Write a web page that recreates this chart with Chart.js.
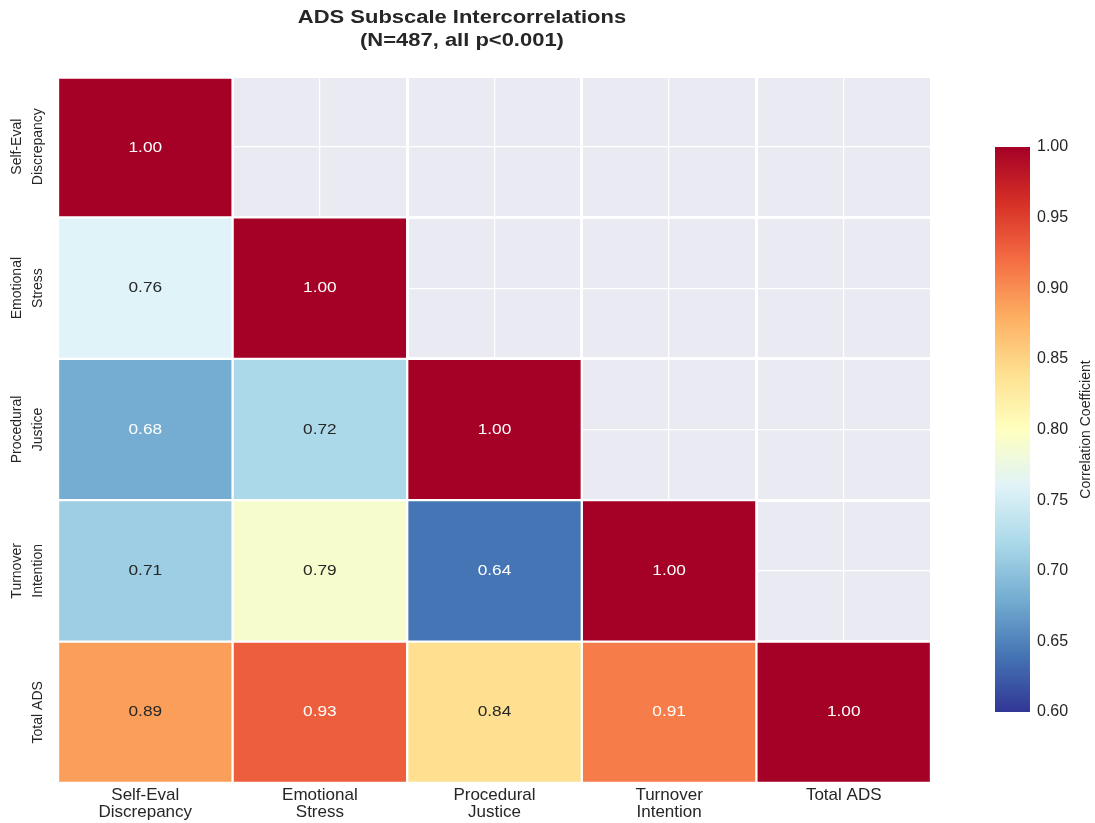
<!DOCTYPE html>
<html>
<head>
<meta charset="utf-8">
<script src="https://cdn.jsdelivr.net/npm/chart.js@4.4.0/dist/chart.umd.min.js"></script>
<style>
  body { margin: 0; background: #fff; }
  #wrap { position: relative; width: 1095px; height: 823px; }
  #heat { position: absolute; left: 0; top: 0; }
  #cbar { position: absolute; left: 990px; top: 120px; }
  #title {
    position: absolute; left: 0; top: 6px; width: 924px;
    text-align: center; color: #262626;
    font: bold 18px "Liberation Sans", Arial, sans-serif; line-height: 23px;
    transform: scaleX(1.22); transform-origin: 462px 0;
  }
</style>
</head>
<body>
<div id="wrap">
  <canvas id="heat" width="1095" height="823"></canvas>
  <canvas id="cbar" width="105" height="620"></canvas>
  <div id="title">ADS Subscale Intercorrelations<br>(N=487, all p&lt;0.001)</div>
</div>
<script>
// subscales, same order on both axes
const subscales = [['Self-Eval', 'Discrepancy'], ['Emotional', 'Stress'], ['Procedural', 'Justice'], ['Turnover', 'Intention'], 'Total ADS'];

// lower triangle of the correlation matrix (null = masked)
const selfEvalRow = [1.00, null, null, null, null];
const emotionalStressRow = [0.76, 1.00, null, null, null];
const proceduralJusticeRow = [0.68, 0.72, 1.00, null, null];
const turnoverIntentionRow = [0.71, 0.79, 0.64, 1.00, null];
const totalAdsRow = [0.89, 0.93, 0.84, 0.91, 1.00];
const rows = [selfEvalRow, emotionalStressRow, proceduralJusticeRow, turnoverIntentionRow, totalAdsRow];

const colorbarTicks = [0.60, 0.65, 0.70, 0.75, 0.80, 0.85, 0.90, 0.95, 1.00];
const vmin = 0.60, vmax = 1.00;

// RdYlBu reversed
const cmapStops = ['#313695', '#4575b4', '#74add1', '#abd9e9', '#e0f3f8', '#ffffbf',
                   '#fee090', '#fdae61', '#f46d43', '#d73027', '#a50026'];

Chart.defaults.font.family = '"Liberation Sans", Arial, sans-serif';
Chart.defaults.color = '#262626';

function hexToRgb(h) {
  return [parseInt(h.slice(1, 3), 16), parseInt(h.slice(3, 5), 16), parseInt(h.slice(5, 7), 16)];
}

function colorFor(v) {
  let t = (v - vmin) / (vmax - vmin);
  t = Math.max(0, Math.min(1, t)) * (cmapStops.length - 1);
  const i = Math.min(Math.floor(t), cmapStops.length - 2);
  const f = t - i;
  const a = hexToRgb(cmapStops[i]), b = hexToRgb(cmapStops[i + 1]);
  const c = a.map((x, k) => Math.round(x + (b[k] - x) * f));
  return 'rgb(' + c.join(',') + ')';
}

// white text on dark cells, dark text elsewhere
function textColorFor(v) {
  const rgb = colorFor(v).match(/\d+/g).map(Number).map(x => {
    x /= 255;
    return x <= 0.03928 ? x / 12.92 : Math.pow((x + 0.055) / 1.055, 2.4);
  });
  const lum = 0.2126 * rgb[0] + 0.7152 * rgb[1] + 0.0722 * rgb[2];
  return lum > 0.408 ? '#262626' : '#ffffff';
}

const plotBackground = {
  id: 'plotBackground',
  beforeDraw(chart) {
    const a = chart.chartArea, ctx = chart.ctx;
    ctx.save();
    ctx.fillStyle = '#eaeaf2';
    ctx.fillRect(a.left, a.top, a.right - a.left, a.bottom - a.top);
    ctx.restore();
  }
};

const cellValues = {
  id: 'cellValues',
  afterDatasetsDraw(chart) {
    const ctx = chart.ctx;
    chart.data.datasets.forEach((ds, r) => {
      chart.getDatasetMeta(r).data.forEach((bar, c) => {
        const v = ds.values[c];
        if (v == null) return;
        const p = bar.getCenterPoint();
        ctx.save();
        ctx.font = '15px "Liberation Sans", Arial, sans-serif';
        ctx.textAlign = 'center';
        ctx.textBaseline = 'middle';
        ctx.fillStyle = textColorFor(v);
        ctx.translate(p.x, p.y);
        ctx.scale(1.15, 1);
        ctx.fillText(v.toFixed(2), 0, 0);
        ctx.restore();
      });
    });
  }
};

// rotated row labels on the left
const rowLabels = {
  id: 'rowLabels',
  afterDraw(chart) {
    const ctx = chart.ctx, y = chart.scales.y;
    ctx.save();
    ctx.font = '14px "Liberation Sans", Arial, sans-serif';
    ctx.fillStyle = '#262626';
    ctx.textAlign = 'center';
    ctx.textBaseline = 'middle';
    subscales.forEach((name, r) => {
      const lines = Array.isArray(name) ? name : [name];
      const py = y.getPixelForValue(r + 0.5);
      lines.forEach((line, i) => {
        const px = 38 - (lines.length - 1 - i) * 21;
        ctx.save();
        ctx.translate(px, py);
        ctx.rotate(-Math.PI / 2);
        ctx.fillText(line, 0, 0);
        ctx.restore();
      });
    });
    ctx.restore();
  }
};

const datasets = rows.map((vals, r) => ({
  label: Array.isArray(subscales[r]) ? subscales[r].join(' ') : subscales[r],
  values: vals,
  data: vals.map(v => v == null ? null : [r, r + 1]),
  backgroundColor: vals.map(v => v == null ? 'rgba(0,0,0,0)' : colorFor(v)),
  borderColor: '#ffffff',
  borderWidth: 1.5,
  borderSkipped: false,
  barPercentage: 1,
  categoryPercentage: 1,
  grouped: false
}));

new Chart(document.getElementById('heat'), {
  type: 'bar',
  data: { labels: subscales, datasets },
  options: {
    responsive: false,
    animation: false,
    layout: { padding: { left: 58, top: 76, right: 164, bottom: 0 } },
    plugins: { legend: { display: false }, tooltip: { enabled: false } },
    scales: {
      x: {
        type: 'category',
        position: 'bottom',
        offset: true,
        grid: { offset: false, color: '#ffffff', lineWidth: 1.2, drawTicks: false },
        border: { display: false },
        ticks: { padding: 4, color: '#262626', font: { size: 17, lineHeight: 1.0 } },
        afterFit: s => { s.height = 40; }
      },
      xEdges: {
        type: 'category',
        position: 'bottom',
        offset: true,
        grid: { offset: true, color: '#ffffff', lineWidth: 3, drawTicks: false },
        border: { display: false },
        ticks: { display: false },
        afterFit: s => { s.height = 0; }
      },
      y: {
        type: 'linear',
        min: 0,
        max: 5,
        reverse: true,
        afterBuildTicks: s => {
          s.ticks = [];
          for (let k = 0; k <= 10; k++) s.ticks.push({ value: k / 2 });
        },
        grid: {
          color: '#ffffff',
          drawTicks: false,
          lineWidth: c => (c.tick && Number.isInteger(c.tick.value)) ? 3 : 1.2
        },
        border: { display: false },
        ticks: { display: false },
        afterFit: s => { s.width = 0; }
      }
    }
  },
  plugins: [plotBackground, cellValues, rowLabels]
});

// colour bar
const colorbarLabel = {
  id: 'colorbarLabel',
  afterDraw(chart) {
    const a = chart.chartArea, ctx = chart.ctx;
    ctx.save();
    ctx.font = '14px "Liberation Sans", Arial, sans-serif';
    ctx.fillStyle = '#262626';
    ctx.textAlign = 'center';
    ctx.textBaseline = 'middle';
    ctx.translate(96, (a.top + a.bottom) / 2);
    ctx.rotate(-Math.PI / 2);
    ctx.fillText('Correlation Coefficient', 0, 0);
    ctx.restore();
  }
};

new Chart(document.getElementById('cbar'), {
  type: 'bar',
  data: {
    labels: [''],
    datasets: [{
      data: [[vmin, vmax]],
      borderWidth: 0,
      barPercentage: 1,
      categoryPercentage: 1,
      backgroundColor: c => {
        const chart = c.chart, y = chart.scales.y;
        if (!chart.chartArea || !y) return cmapStops[0];
        const g = chart.ctx.createLinearGradient(0, y.getPixelForValue(vmin), 0, y.getPixelForValue(vmax));
        cmapStops.forEach((col, i) => g.addColorStop(i / (cmapStops.length - 1), col));
        return g;
      }
    }]
  },
  options: {
    responsive: false,
    animation: false,
    layout: { padding: { left: 5, top: 27, right: 0, bottom: 28 } },
    plugins: { legend: { display: false }, tooltip: { enabled: false } },
    scales: {
      x: { display: false },
      y: {
        position: 'right',
        min: vmin,
        max: vmax,
        afterBuildTicks: s => { s.ticks = colorbarTicks.map(v => ({ value: v })); },
        grid: { display: false, drawTicks: false },
        border: { display: false },
        ticks: { padding: 7, color: '#262626', font: { size: 16 }, callback: v => v.toFixed(2) },
        afterFit: s => { s.width = 65; }
      }
    }
  },
  plugins: [colorbarLabel]
});
</script>
</body>
</html>
